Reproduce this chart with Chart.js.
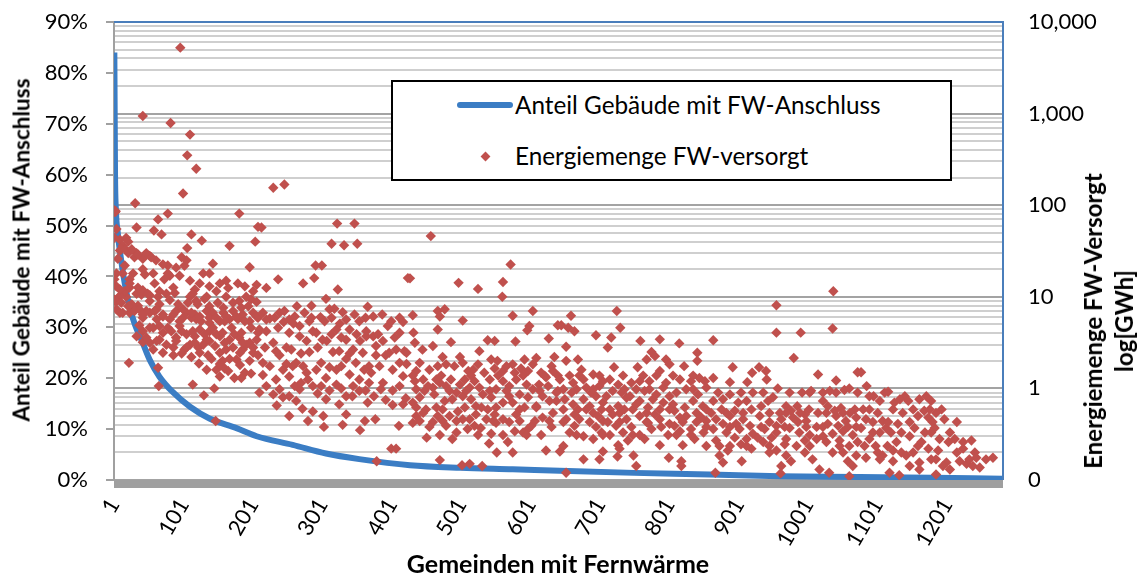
<!DOCTYPE html>
<html>
<head>
<meta charset="utf-8">
<script src="https://cdn.jsdelivr.net/npm/chart.js@4.4.1/dist/chart.umd.min.js"></script>
<style>
  html, body { margin: 0; padding: 0; background: #fff; }
  #wrap { position: relative; width: 1146px; height: 574px; font-family: Lato, 'Open Sans', sans-serif; color: #000; }
  canvas { position: absolute; left: 0; top: 0; }
  .legend { position: absolute; left: 391px; top: 80px; width: 561px; height: 101px; box-sizing: border-box;
            border: 2px solid #000; background: #fff; }
  .lg-line { position: absolute; left: 64px; top: 20px; width: 56px; height: 6px; border-radius: 3px; background: #3b7dc4; }
  .lg-dia { position: absolute; left: 89px; top: 71px; width: 7px; height: 7px; background: #c0504d; transform: rotate(45deg); }
  .lg-text { position: absolute; left: 122px; font-size: 24.3px; line-height: 30px; white-space: nowrap; }
  .t1 { top: 8px; }
  .t2 { top: 59px; }
  .title { position: absolute; font-weight: bold; white-space: nowrap; line-height: 31px; text-align: center; }
  .x-title { left: 558px; top: 563px; font-size: 25px; transform: translate(-50%, -50%); }
  .y-title { left: 21px; top: 250px; font-size: 22.5px; transform: translate(-50%, -50%) rotate(-90deg); }
  .y2-title { left: 1108px; top: 321px; font-size: 24px; transform: translate(-50%, -50%) rotate(-90deg); }
</style>
</head>
<body>
<div id="wrap">
  <canvas id="chart" width="1146" height="574"></canvas>
  <div class="legend">
    <div class="lg-line"></div><div class="lg-text t1">Anteil Gebäude mit FW-Anschluss</div>
    <div class="lg-dia"></div><div class="lg-text t2">Energiemenge FW-versorgt</div>
  </div>
  <div class="title x-title">Gemeinden mit Fernwärme</div>
  <div class="title y-title">Anteil Gebäude mit FW-Anschluss</div>
  <div class="title y2-title">Energiemenge FW-Versorgt<br>log[GWh]</div>
</div>
<script>
// Anteil Gebäude mit FW-Anschluss (sortiert, Gemeinde-Nr. -> %)
const shareGemeinde = [1, 2, 3, 6, 11, 16, 23, 30, 42, 52, 66, 85, 110, 138, 177, 206, 258, 306, 354, 427, 500, 575, 643, 750, 859, 960, 1075, 1180, 1281]
const sharePct = [84, 60, 53.7, 48.5, 43, 38.6, 34, 30.8, 26.9, 23.6, 20.3, 17.3, 14.4, 12.1, 10.2, 8.6, 6.9, 5.2, 4.1, 2.9, 2.4, 2.1, 1.8, 1.4, 1.1, 0.75, 0.6, 0.42, 0.25]

// Energiemenge FW-versorgt [Gemeinde-Nr., GWh]
const energyPoints = [
  // 1 - 210
  [96,5250],[42,940],[82,790],[110,590],[106,350],[119,250],[100,134],[31,105],[1,88],[2,84],[3,86],[78,81],[181,81],
  [64,70],[4,55],[33,57],[58,53],[69,48],[112,48],[208,58],[9,42],[127,41],[18,44],[204,40],[106,34],[167,36],[13,36],
  [21,30],[33,30],[9,32],[52,28],[98,27],[105,25],[143,23],[30,27],[78,22],[196,21],[61,25],[42,26],[13,18],[28,18],
  [45,17.5],[129,18],[138,18],[81,17],[23,15.5],[4,13],[59,14],[73,15.5],[179,14],[165,12.5],[117,12],[206,13.5],
  [6,9.7],[18,10],[40,10.5],[52,9],[88,11],[110,10],[131,9.5],[181,9],[198,9.4],[2,9],[35,8],[66,8.3],[121,8.3],
  [1,9.3],[5,9.1],[10,10.3],[9,6.7],[26,8.3],
  [37,7.3],[52,6.7],[71,6.4],[90,7.0],[105,6.7],[117,6.4],[134,7.0],[143,6.7],[158,6.7],[172,7.0],[186,6.4],[201,6.7],
  [81,5.7],[95,5.4],[119,5.7],[153,5.4],[167,5.7],[196,5.4],[42,5.9],[62,5.7],
  [16,11.5],[23,12.6],[33,10.8],[42,11.8],[52,10.4],[66,11.5],[76,10.8],[86,12.6],[114,10.8],[134,10.0],[148,11.5],
  [162,10.0],[191,10.0],[206,8.8],[23,6.7],[47,7.0],[62,7.3],[100,7.3],[112,5.9],[126,5.4],[138,5.9],[162,6.1],
  [179,5.7],[208,5.9],[4,7.3],[13,6.7],
  [42,4.2],[57,4.6],[71,4.05],[90,3.6],[105,3.9],[124,4.4],[138,4.2],[153,3.7],[167,3.4],[181,3.6],[196,3.15],[206,3.4],
  [86,2.8],[110,3.0],[138,3.3],[162,2.66],[186,2.66],[201,2.45],[52,3.15],[153,2.45],[177,2.07],
  [33,3.7],[66,3.4],[78,4.6],[98,4.2],[117,3.7],[134,3.4],[148,3.9],[174,3.9],[191,3.0],[208,4.05],[57,2.66],[102,2.66],
  [122,2.8],[136,2.3],[157,2.0],[182,2.45],[208,2.3],
  [22,1.9],[123,1.87],[148,1.6],[160,1.65],[174,1.3],[189,1.48],[64,1.68],[65,1.06],[114,1.1],[130,0.84],[145,1.0],
  [147,0.44],[42,3.2],[210,0.9],
  [1,44],[11,33],[21,40],[17,33],[26,33],[35,29],[47,30],[54,27],[71,22.6],[90,20.8],[102,21.8],[42,20],[57,18],[78,18],
  [95,17],[110,15],[124,14],[138,13],[153,14],[162,15],[189,13],[201,11.5],[23,14],[35,12.6],[49,10.8],[64,10],[81,9.2],
  [93,8.3],[107,8.6],[119,9],[138,7.9],[150,8.6],[158,7.6],[172,8.6],[184,7.6],[194,7.9],[2,9.2],[11,8.6],[21,7.9],
  [30,7.0],[42,6.4],[59,7.0],[71,6.1],[86,6.4],[100,5.9],[112,6.7],[124,6.1],[138,5.2],[148,5.9],[160,5.4],[177,6.1],
  [189,5.4],[206,6.1],[37,4.9],[52,4.6],[66,4.8],[83,4.2],[95,4.8],[114,4.2],[131,3.9],[143,4.6],[157,4.05],[170,4.6],
  [184,4.05],[198,4.6],[47,3.6],[62,3.3],[76,3.0],[90,3.3],[105,2.8],[117,3.15],[129,3.0],[146,2.9],[160,3.15],[172,2.8],
  [186,3.15],[201,2.8],[71,2.45],[86,2.3],[98,2.4],[112,2.2],[124,2.45],[141,2.1],[153,1.85],[167,2.1],[182,1.8],
  [196,2.0],[165,1.55],[184,1.3],[198,1.45],[153,1.35],[134,1.6],[4,18],[1,15.5],[9,12],[16,22],[6,26],
  // 210 - 426
  [230,155],[246,168],[213,57],[322,63],[347,63],[314,38],[332,36.5],[351,38],[291,22],[300,22],[289,16],[273,14],
  [237,15.5],[220,12.5],[323,12],[424,16],
  [264,7.9],[285,8],[306,9.5],[311,7.3],[318,7.4],[330,6.8],[366,7.8],[298,6.0],[387,6.4],[363,5.9],[417,5.3],[225,5.8],
  [245,5.3],[259,5.1],[326,5.1],[340,4.4],[395,4.8],[210,4.4],
  [230,3.15],[249,2.8],[278,3.3],[307,3.3],[355,3.3],[374,3.7],[388,3.3],[405,3.6],[419,2.55],[239,2.3],[263,1.9],
  [282,2.5],[316,2.5],[335,2.1],[349,1.9],[368,1.75],[392,2.3],[412,1.9],
  [220,5.66],[239,6.7],[253,5.66],[268,4.8],[282,5.4],[292,4.05],[301,3.4],[321,4.4],[335,3.4],[345,2.66],[364,3.7],
  [378,2.9],[407,2.66],[422,2.45],[225,1.75],[244,1.6],[258,1.75],[278,1.48],[292,1.6],[306,1.3],[321,1.6],[340,1.42],
  [354,1.25],[371,1.48],[388,1.15],[417,1.36],[268,0.98],[287,1.06],[335,0.82],[354,0.94],[392,0.75],
  [215,1.4],[234,1.25],[253,1.35],[270,1.15],[294,0.88],[311,0.95],[328,1.0],[344,0.82],[363,0.95],[375,0.82],[402,0.95],
  [421,0.78],[402,0.66],[230,0.86],[253,0.82],
  [235,0.65],[253,0.5],[272,0.6],[280,0.44],[302,0.5],[303,0.38],[330,0.4],[355,0.35],[362,0.44],[377,0.46],[400,0.22],
  [407,0.22],[379,0.16],[411,0.39],
  [215,6.7],[232,5.9],[246,7.0],[261,6.1],[275,6.7],[285,5.9],[304,5.4],[314,5.9],[335,5.66],[347,6.4],[354,5.4],[374,6.1],
  [400,5.4],[412,5.9],[220,4.2],[237,4.6],[253,4.05],[268,3.7],[287,4.2],[314,3.9],[328,3.6],[350,3.9],[364,4.2],[381,3.9],
  [412,4.05],[218,2.8],[234,2.55],[256,2.66],[270,2.4],[294,2.8],[325,2.55],[340,2.4],[359,2.45],[378,2.3],[397,2.45],
  [215,1.9],[249,1.85],[273,1.75],[299,1.9],[311,1.7],[328,1.75],[361,1.6],[383,1.75],[402,1.6],[422,1.85],[220,1.06],
  [239,0.98],[261,1.06],[280,1.25],[299,1.06],[321,1.1],[345,1.06],[368,1.15],[385,0.98],[412,1.06],[244,0.8],[263,0.73],
  [306,0.76],[325,0.67],[366,0.7],[417,0.67],[335,0.52],[287,0.56],
  // 427 - 643
  [457,46],[427,15.9],[497,14.2],[525,12.2],[561,14.5],[560,10],[572,22.5],
  [431,6.3],[467,7.0],[477,7.3],[470,6.1],[503,5.5],[575,6.2],[604,7.0],[599,4.8],[596,4.3],[627,3.5],[640,4.9],
  [432,4.06],[434,3.15],[467,4.4],[486,3.2],[539,3.35],[549,3.3],[579,3.25],
  [445,2.65],[460,2.9],[499,2.2],[527,2.55],[544,2.07],[553,2.0],[575,1.83],[592,2.07],[609,2.15],[635,2.2],
  [436,1.55],[455,1.6],[479,1.83],[518,1.6],[561,1.55],[597,1.55],[623,1.32],[633,1.55],
  [446,1.25],[470,1.15],[486,1.25],[506,1.25],[542,1.25],[570,1.06],[613,1.1],
  [436,0.98],[460,1.02],[494,0.9],[513,1.02],[532,0.86],[551,0.98],[585,0.86],[604,0.98],[638,0.9],
  [431,0.7],[450,0.59],[474,0.59],[488,0.76],[522,0.64],[539,0.59],[561,0.7],[585,0.59],[609,0.64],[628,0.73],
  [436,0.5],[460,0.43],[484,0.5],[513,0.46],[537,0.46],[570,0.43],[597,0.36],[618,0.48],[431,0.42],[479,0.39],[510,0.36],
  [529,0.37],[551,0.42],[590,0.33],[616,0.31],
  [451,0.29],[488,0.28],[541,0.25],[552,0.2],[568,0.26],[575,0.2],[623,0.21],[643,0.205],
  [470,0.165],[502,0.145],[513,0.15],[531,0.142],
  [441,1.9],[467,1.75],[474,2.2],[491,1.75],[503,1.9],[511,1.55],[525,1.83],[534,1.48],[549,1.65],[566,1.75],[578,1.48],
  [587,1.65],[604,1.83],[616,1.48],[631,1.75],[640,1.38],[434,1.2],[453,1.06],[465,1.25],[479,1.06],[499,1.1],[520,1.2],
  [527,1.02],[561,1.2],[580,1.25],[595,1.1],[626,1.06],[441,0.8],[462,0.86],[477,0.73],[503,0.82],[515,0.76],[544,0.8],
  [570,0.82],[575,0.7],[597,0.8],[618,0.82],[638,0.73],[446,0.54],[467,0.5],[496,0.56],[503,0.46],[522,0.52],[549,0.52],
  [561,0.46],[580,0.52],[607,0.44],[633,0.54],[455,0.38],[494,0.33],[520,0.39],[544,0.32],[578,0.34],[602,0.39],[631,0.38],
  [431,1.38],[472,1.38],[515,1.38],[554,1.38],[590,1.38],[621,1.38],[448,0.94],[484,0.94],[508,0.94],[542,0.94],
  [566,0.94],[614,0.94],[640,0.94],[436,0.62],[465,0.62],[506,0.62],[530,0.62],[551,0.62],[592,0.62],[609,0.62],
  [441,0.44],[474,0.44],[494,0.44],[547,0.44],[585,0.44],[628,0.44],[470,0.31],[525,0.31],[561,0.31],[595,0.31],
  // 643 - 859
  [725,7.0],[730,4.6],[659,6.2],[645,4.9],[655,4.6],[664,4.2],[695,3.8],[717,3.6],[712,2.8],[759,3.3],[787,3.43],[815,3.1],
  [652,2.85],[841,2.45],[841,2.0],
  [652,2.0],[669,2.07],[775,2.5],[780,2.25],[768,2.07],[796,2.07],[822,1.75],[801,1.83],[755,1.7],[721,1.7],[674,1.6],[787,1.55],
  [657,1.38],[691,1.42],[715,1.25],[734,1.38],[746,1.15],[772,1.2],[782,1.38],[832,1.2],[844,1.3],[643,1.25],
  [667,0.98],[681,1.02],[700,1.06],[719,0.94],[753,0.98],[765,0.94],[792,1.02],[811,0.9],[825,0.98],[854,1.02],
  [650,0.76],[677,0.76],[695,0.82],[739,0.79],[758,0.73],[777,0.76],[792,0.7],[835,0.73],[849,0.64],
  [648,0.59],[669,0.59],[691,0.54],[715,0.59],[729,0.54],[748,0.59],[768,0.54],[808,0.57],[825,0.5],[840,0.54],
  [652,0.46],[671,0.46],[686,0.43],[705,0.44],[739,0.46],[787,0.46],[801,0.41],[854,0.44],
  [657,0.33],[677,0.3],[703,0.33],[715,0.31],[734,0.33],[758,0.31],[775,0.36],[799,0.31],[816,0.34],[850,0.33],
  [648,0.235],[727,0.24],[729,0.22],[820,0.24],[854,0.235],
  [677,0.168],[700,0.168],[705,0.205],[726,0.18],[749,0.185],[800,0.175],[818,0.16],[818,0.142],
  [652,0.12],[753,0.142],
  [662,1.15],[677,1.25],[705,1.2],[727,1.1],[758,1.2],[796,1.15],[816,1.25],[852,1.2],[660,0.9],[688,0.9],[710,0.82],
  [732,0.9],[744,0.82],[782,0.86],[801,0.82],[842,0.86],[662,0.67],[686,0.64],[705,0.7],[727,0.64],[753,0.67],[770,0.62],
  [806,0.67],[823,0.62],[664,0.52],[698,0.5],[719,0.52],[758,0.5],[780,0.52],[816,0.48],[847,0.48],[664,0.39],[695,0.38],
  [724,0.39],[746,0.38],[770,0.42],[789,0.38],[808,0.39],[832,0.36],[854,0.38],[691,0.28],[741,0.27],[765,0.28],
  [787,0.24],[837,0.28],
  [671,1.38],[700,1.38],[763,1.38],[806,1.38],[835,1.38],[648,0.98],[691,0.98],[736,0.98],[772,0.98],[835,0.98],
  [681,0.59],[703,0.59],[736,0.59],[787,0.59],[801,0.59],[854,0.59],[648,0.43],[712,0.43],[729,0.43],[768,0.43],
  [820,0.43],[840,0.43],[667,0.31],[705,0.31],[748,0.31],[811,0.31],[832,0.31],
  // 859 - 1075
  [1037,11.5],[1036,4.5],[955,8.1],[955,4.06],[990,4.06],[980,2.15],[864,3.35],
  [892,1.7],[930,1.7],[940,1.55],[920,1.48],[864,1.3],[888,1.17],[913,1.17],[941,1.25],[1015,1.42],[1041,1.22],[1072,1.5],
  [957,1.0],[992,0.9],[1005,0.94],[1022,0.9],[1032,0.94],[1053,0.96],[1060,1.0],[888,0.86],[921,0.9],
  [864,0.73],[878,0.76],[900,0.7],[912,0.73],[943,0.73],[950,0.8],[969,0.64],[985,0.64],[1002,0.59],[1022,0.73],[1029,0.64],
  [1048,0.61],[1068,0.59],
  [868,0.46],[888,0.5],[907,0.46],[931,0.5],[945,0.43],[962,0.46],[979,0.48],[998,0.44],[1041,0.5],[1055,0.44],[1070,0.48],
  [864,0.36],[883,0.33],[902,0.36],[921,0.32],[938,0.36],[955,0.33],[974,0.37],[988,0.33],[1003,0.31],[1022,0.3],[1036,0.32],
  [1051,0.34],[1065,0.31],
  [868,0.27],[888,0.235],[904,0.245],[936,0.26],[967,0.245],[984,0.235],[1027,0.26],[1060,0.235],
  [873,0.185],[878,0.155],[905,0.16],[945,0.2],[969,0.185],[976,0.16],[962,0.142],[1007,0.168],[1017,0.13],[1031,0.12],
  [1051,0.2],[1058,0.16],[1065,0.142],
  [867,0.12],[961,0.118],[1060,0.11],
  [876,0.59],[895,0.57],[919,0.59],[933,0.64],[960,0.54],[976,0.57],[996,0.52],[1015,0.54],[1039,0.57],[1061,0.54],
  [878,0.41],[897,0.41],[917,0.39],[955,0.39],[986,0.43],[1013,0.38],[1029,0.41],[1044,0.39],[1070,0.38],[895,0.29],
  [912,0.28],[928,0.29],[948,0.29],[969,0.28],[996,0.27],[1013,0.28],[1046,0.27],[1072,0.26],[885,0.21],[919,0.22],
  [955,0.21],[996,0.2],[1036,0.2],[1070,0.185],
  [871,0.9],[904,0.9],[936,0.9],[974,0.9],[1003,0.9],[1041,0.9],[1072,0.9],[861,0.54],[883,0.54],[907,0.54],[945,0.54],
  [969,0.54],[989,0.54],[1027,0.54],[1051,0.54],[888,0.38],[933,0.38],[967,0.38],[998,0.38],[1022,0.38],[1058,0.38],
  [873,0.235],[912,0.235],[945,0.235],[1003,0.235],[1046,0.235],
  // 1075 - 1281
  [1077,1.5],[1085,1.06],[1095,0.82],[1104,0.73],[1116,0.92],[1125,0.7],[1140,0.82],[1145,0.73],[1161,0.76],[1178,0.73],
  [1152,0.59],[1193,0.59],[1159,0.5],[1174,0.48],[1197,0.46],[1183,0.37],
  [1080,0.59],[1084,0.46],[1077,0.37],[1094,0.43],[1108,0.44],[1130,0.41],[1104,0.33],[1120,0.33],[1147,0.3],[1169,0.33],
  [1190,0.28],[1212,0.28],[1236,0.27],
  [1089,0.28],[1082,0.235],[1098,0.235],[1115,0.235],[1135,0.2],[1159,0.235],[1174,0.22],[1203,0.26],[1224,0.22],[1241,0.2],
  [1084,0.175],[1108,0.185],[1123,0.16],[1142,0.185],[1161,0.155],[1178,0.168],[1200,0.155],[1219,0.16],[1243,0.175],
  [1248,0.137],[1267,0.175],
  [1118,0.12],[1132,0.113],[1161,0.13],[1185,0.115],[1205,0.13],[1229,0.15],
  [1089,0.82],[1111,0.9],[1133,0.76],[1171,0.82],[1101,0.54],[1137,0.54],[1168,0.57],[1185,0.54],[1094,0.33],[1113,0.37],
  [1135,0.33],[1154,0.37],[1178,0.33],[1205,0.33],[1101,0.2],[1123,0.21],[1152,0.2],[1188,0.21],[1215,0.2],[1233,0.168],
  [1147,0.142],[1195,0.142],[1238,0.142],
  [1089,0.59],[1123,0.59],[1176,0.59],[1116,0.43],[1147,0.43],[1180,0.43],[1215,0.43],[1128,0.26],[1164,0.26],[1224,0.26],
  [1104,0.168],[1185,0.168],[1257,0.168]
]

const leftTicks = [0, 10, 20, 30, 40, 50, 60, 70, 80, 90]
const rightTicks = [0.1, 1, 10, 100, 1000, 10000]
const xTickValues = [1, 101, 201, 301, 401, 501, 601, 701, 801, 901, 1001, 1101, 1201]

const tickFont = { family: 'Lato', size: 22 }

// label overflow must not push the plot area down
const noScalePadding = (s) => { s.paddingTop = 0; s.paddingBottom = 0 }

// gray floor under the plot, blue frame top/right
const framePlugin = {
  id: 'frame',
  beforeDatasetsDraw(chart) {
    const { ctx, chartArea: a } = chart
    ctx.save()
    ctx.fillStyle = '#9f9f9f'
    ctx.fillRect(a.left, a.bottom, a.right - a.left, 8)
    ctx.restore()
  },
  afterDraw(chart) {
    const { ctx, chartArea: a } = chart
    ctx.save()
    ctx.strokeStyle = '#4a7ebb'
    ctx.lineWidth = 2
    ctx.beginPath()
    ctx.moveTo(a.left, a.top)
    ctx.lineTo(a.right, a.top)
    ctx.lineTo(a.right, a.bottom)
    ctx.stroke()
    ctx.restore()
  }
}

const ctx = document.getElementById('chart').getContext('2d')
const chart = new Chart(ctx, {
  type: 'scatter',
  data: {
    datasets: [
      {
        type: 'line',
        label: 'Anteil Gebäude mit FW-Anschluss',
        data: shareGemeinde.map((g, i) => ({ x: g, y: sharePct[i] })),
        yAxisID: 'y',
        borderColor: '#3b7dc4',
        borderWidth: 6,
        pointRadius: 0,
        cubicInterpolationMode: 'monotone',
        order: 2,
      },
      {
        type: 'scatter',
        label: 'Energiemenge FW-versorgt',
        data: energyPoints.map(([g, e]) => ({ x: g, y: e })),
        yAxisID: 'y2',
        pointStyle: 'rectRot',
        pointRadius: 5.2,
        backgroundColor: '#c0504d',
        borderWidth: 0,
        order: 1,
      },
    ],
  },
  options: {
    responsive: false,
    animation: false,
    layout: { padding: { top: 22, left: 0, right: 0, bottom: 0 } },
    plugins: { legend: { display: false }, tooltip: { enabled: false } },
    scales: {
      x: {
        type: 'linear',
        min: 0.5,
        max: 1281.5,
        grid: { display: false, drawTicks: false },
        border: { display: false },
        afterBuildTicks: (s) => { s.ticks = xTickValues.map((v) => ({ value: v })) },
        afterFit: (s) => { s.height = 94 },
        ticks: {
          autoSkip: false, minRotation: 60, maxRotation: 60, padding: 14,
          color: '#000', font: tickFont,
          callback: (v) => String(v),
        },
      },
      y: {
        position: 'left',
        min: 0,
        max: 90,
        afterBuildTicks: (s) => { s.ticks = leftTicks.map((v) => ({ value: v })) },
        afterFit: (s) => { s.width = 114; noScalePadding(s) },
        grid: { drawOnChartArea: false, drawTicks: true, tickLength: 8, color: '#a0a0a0', lineWidth: 2 },
        border: { display: true, color: '#a0a0a0', width: 2 },
        ticks: { padding: 18, color: '#000', font: tickFont, callback: (v) => v + '%' },
      },
      y2: {
        type: 'logarithmic',
        position: 'right',
        min: 0.1,
        max: 10000,
        afterBuildTicks: (s) => {
          const t = []
          rightTicks.slice(0, -1).forEach((d) => {
            for (let k = 1; k < 10; k++) t.push({ value: d * k })
          })
          t.push({ value: rightTicks[rightTicks.length - 1] })
          s.ticks = t
        },
        afterFit: (s) => { s.width = 143; noScalePadding(s) },
        grid: {
          drawTicks: false,
          lineWidth: 2,
          color: (c) => (c.tick && rightTicks.includes(c.tick.value) ? '#a3a3a3' : '#cfcfcf'),
        },
        border: { display: false },
        ticks: {
          autoSkip: false, padding: 25, color: '#000', font: tickFont,
          callback: (v) => {
            if (!rightTicks.includes(v)) return ''
            return v < 1 ? '0' : v.toLocaleString('en-US')
          },
        },
      },
    },
  },
  plugins: [framePlugin],
})
</script>
</body>
</html>
